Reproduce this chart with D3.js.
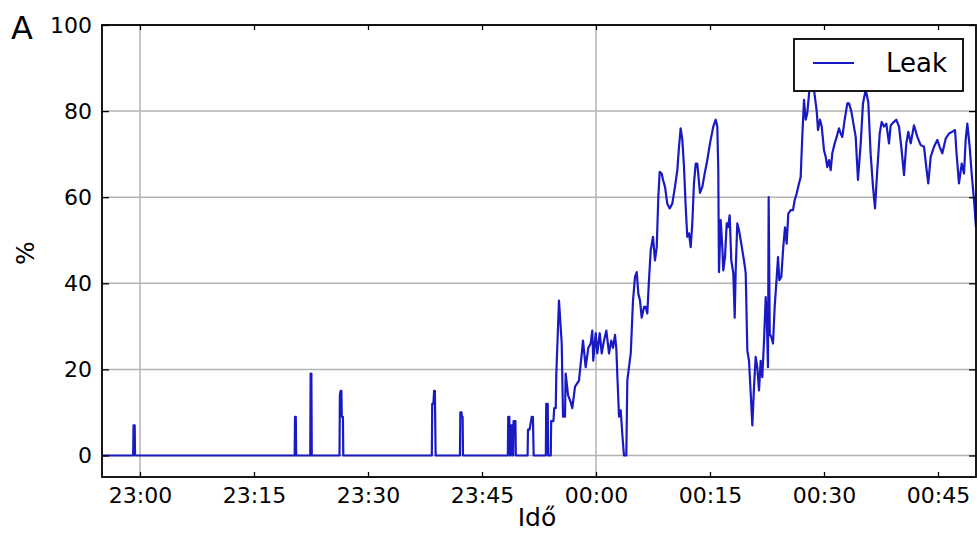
<!DOCTYPE html>
<html>
<head>
<meta charset="utf-8">
<script src="https://cdn.jsdelivr.net/npm/d3@7"></script>
<style>
  body { margin: 0; background: #fff; }
  text { font-family: "DejaVu Sans", sans-serif; fill: #000; }
</style>
</head>
<body>
<svg id="chart" width="977" height="534"></svg>
<script>
// Leak sensor trace: minutes elapsed since 23:00 and leak level in percent
const leakMinutes = [
  -5, -0.9, -0.85, -0.7, -0.65,
  20.35, 20.4, 20.5, 20.55,
  22.4, 22.45, 22.55, 22.6,
  26.25, 26.3, 26.4, 26.5, 26.55, 26.7, 26.75,
  38.4, 38.45, 38.6, 38.7, 38.8, 38.9,
  42.1, 42.15, 42.3, 42.35, 42.45, 42.5,
  48.4, 48.45, 48.6, 48.65, 48.75, 48.8, 48.95, 49.0, 49.1, 49.15, 49.4, 49.45,
  51.0, 51.05, 51.25, 51.35, 51.55, 51.7, 51.8,
  53.4, 53.45, 53.65, 53.7,
  54.05, 54.1, 54.4, 54.5, 54.7, 54.78, 55.13, 55.49, 55.66, 55.92, 56.01, 56.32, 56.67, 56.88,
  57.24, 57.76, 58.12, 58.29, 58.64, 58.99, 59.30, 59.51, 59.64, 59.96, 60.17, 60.49, 60.75,
  61.05, 61.36, 61.71, 62.01, 62.24, 62.5, 62.67, 62.80, 63.03, 63.25, 63.46, 63.68, 63.99,
  64.12, 64.34, 64.57, 64.87, 65.13, 65.36, 65.57, 65.79, 66.01, 66.32, 66.54, 66.75, 66.97,
  67.20, 67.50, 67.76, 67.99, 68.20, 68.38, 68.64, 68.82, 69.08, 69.38, 69.70, 70.04, 70.39,
  70.70, 70.92, 71.14, 71.36, 71.58, 71.80, 72.01, 72.24, 72.46, 72.67, 72.89, 73.12, 73.33,
  73.68, 73.99, 74.30, 74.64, 75.0, 75.43, 75.75, 75.96, 76.09, 76.18, 76.41, 76.62, 76.75,
  76.97, 77.20, 77.37, 77.59, 77.80, 78.07, 78.25, 78.38, 78.59, 78.82, 79.04, 79.25, 79.47,
  79.70, 79.91, 80.13, 80.36, 80.57, 80.79, 81.01, 81.22, 81.45, 81.67, 81.88, 82.11, 82.33,
  82.46, 82.63, 82.72, 82.86, 83.07, 83.29, 83.51, 83.78, 83.95, 84.12, 84.38, 84.64, 84.87,
  85.09, 85.30, 85.62, 85.92, 86.14, 86.41, 86.71, 86.93, 87.14, 87.37, 87.59, 87.80, 88.03,
  88.25, 88.49, 88.68, 89.04, 89.21, 89.47, 89.70, 90.0, 90.22, 90.43, 90.66, 90.88, 91.09,
  91.41, 91.67, 91.97, 92.20, 92.41, 92.72, 93.07, 93.29, 93.59, 94.17, 94.47, 94.83, 95.13,
  95.49, 95.83, 96.14, 96.45, 96.71, 97.01, 97.33, 97.59, 97.89, 98.20, 98.55, 98.78, 99.21,
  99.51, 99.87, 100.17, 100.53, 100.83, 101.09, 101.41, 101.84, 102.28, 102.72, 103.16, 103.46,
  103.72, 104.04, 104.47, 104.91, 105.22, 105.57, 106.01, 106.45, 106.88, 107.24, 107.41,
  107.76, 108.12, 108.42, 108.64, 108.86, 109.17, 109.43, 109.74, 110
];
const leakValues = [
  0, 0, 7, 7, 0,
  0, 9, 9, 0,
  0, 19, 19, 0,
  0, 14, 15, 15, 9, 9, 0,
  0, 12, 12, 15, 15, 0,
  0, 10, 10, 9, 9, 0,
  0, 9, 9, 0, 0, 7, 7, 0, 0, 8, 8, 0,
  0, 6, 6, 7, 9, 9, 0,
  0, 12, 12, 0,
  0, 8, 8, 11, 11, 19, 36, 26, 9, 9, 19, 14, 12.4, 11,
  16, 17.4, 23.6, 26.7, 20.5, 25, 26, 29, 22, 28.4, 23.7, 28.4, 23.7,
  26.7, 29, 23.7, 26.7, 25, 28, 25, 19, 9, 10.5, 5, 0, 0,
  17.4, 20.5, 23.7, 36, 41.5, 42.6, 37.6, 36, 32, 34.5, 34.5, 33, 40.7,
  47.7, 50.8, 45.3, 48.4, 60, 65.9, 65.5, 64, 62.4, 58.5, 57.4, 58.5, 62.4,
  66.3, 71.7, 76, 73.3, 67, 57.8, 50.8, 51.6, 48.4, 53.9, 63.2, 67.8, 67.8,
  61, 62.4, 65.5, 68.6, 72.5, 76.4, 78, 76.4, 66.3, 42.6, 54.7, 48.4, 43,
  46, 53.9, 53, 55.8, 45.3, 42.3, 32, 43, 53.9, 52.3, 50, 47.7, 45.3,
  42.3, 24.4, 22, 14.3, 7, 15.9, 22.9, 20.5, 15.1, 22, 18.2, 26.7, 36.8,
  33, 20.5, 60, 28.3, 27.5, 26, 34.5, 41.5, 46.1, 40.7, 41.5, 48.4, 53,
  49.2, 56.2, 57, 57, 59.3, 60.9, 63.2, 64.7, 74, 82.6, 78, 79.5, 84,
  88, 90, 85, 80, 75.6, 78, 76.4, 70.9, 69.4, 67, 68.6, 66.3, 70.2,
  72.5, 74, 76, 74.8, 74, 78, 81.8, 81.8, 80, 74, 64, 72.5, 81.8,
  85, 82, 70, 62.4, 57.4, 66.3, 74.8, 77.5, 76.4, 77.1, 72.5, 76.7, 77.5,
  78, 76.4, 71.7, 65.1, 72.5, 75.2, 72.5, 76.7, 74, 72.1, 71.7, 67,
  63.2, 69.4, 71.7, 73.3, 71.7, 70.2, 73.6, 74.8, 75.2, 75.6, 70.9,
  63.2, 67.8, 65.5, 73.3, 77.1, 71.7, 65.5, 59.3, 53
];

// Axis ticks
const yTicks = [0, 20, 40, 60, 80, 100];
const xTickLabels = ["23:00", "23:15", "23:30", "23:45", "00:00", "00:15", "00:30", "00:45"];
const xGridLabels = ["23:00", "00:00"];
const xRange = ["22:55", "00:50"];
const seriesName = "Leak";

const start = new Date(2000, 0, 1, 23, 0);
const atMinutes = m => new Date(start.getTime() + m * 60000);
const parseClock = s => {
  const [h, m] = s.split(":").map(Number);
  return new Date(2000, 0, h < 12 ? 2 : 1, h, m);
};

const data = leakMinutes.map((m, i) => ({ t: atMinutes(m), v: leakValues[i] }));

const W = 977, H = 534;
const margin = { left: 102, top: 25, right: 1, bottom: 57 };
const plotW = W - margin.left - margin.right;
const plotH = H - margin.top - margin.bottom;

const svg = d3.select("#chart");
const g = svg.append("g").attr("transform", `translate(${margin.left},${margin.top})`);

const x = d3.scaleTime().domain(xRange.map(parseClock)).range([0, plotW]);
const y = d3.scaleLinear().domain([-5, 100]).range([plotH, 0]);

const gridColor = "#b3b3b3";

// Horizontal grid lines
g.append("g").selectAll("line").data(yTicks).join("line")
  .attr("x1", 0).attr("x2", plotW)
  .attr("y1", d => y(d)).attr("y2", d => y(d))
  .attr("stroke", gridColor).attr("stroke-width", 1.5);

// Vertical grid lines on the hours
g.append("g").selectAll("line").data(xGridLabels.map(parseClock)).join("line")
  .attr("x1", d => x(d)).attr("x2", d => x(d))
  .attr("y1", 0).attr("y2", plotH)
  .attr("stroke", gridColor).attr("stroke-width", 1.5);

// Data line
g.append("clipPath").attr("id", "plotClip")
  .append("rect").attr("width", plotW).attr("height", plotH);

const line = d3.line().x(d => x(d.t)).y(d => y(d.v));
g.append("path").datum(data)
  .attr("clip-path", "url(#plotClip)")
  .attr("fill", "none")
  .attr("stroke", "#1a1ac4")
  .attr("stroke-width", 2.2)
  .attr("stroke-linejoin", "round")
  .attr("d", line);

// Axes with inward ticks
const xTickDates = xTickLabels.map(parseClock);
const fmt = d3.timeFormat("%H:%M");

const xAxis = g.append("g").attr("transform", `translate(0,${plotH})`)
  .call(d3.axisBottom(x).tickValues(xTickDates).tickFormat(fmt).tickSize(-5).tickPadding(10));
const topAxis = g.append("g")
  .call(d3.axisTop(x).tickValues(xTickDates).tickFormat("").tickSize(-5));
const yAxis = g.append("g")
  .call(d3.axisLeft(y).tickValues(yTicks).tickSize(-7).tickPadding(10));
const rightAxis = g.append("g").attr("transform", `translate(${plotW},0)`)
  .call(d3.axisRight(y).tickValues(yTicks).tickFormat("").tickSize(-7));

[xAxis, topAxis, yAxis, rightAxis].forEach(a => {
  a.select(".domain").remove();
  a.selectAll(".tick line").attr("stroke", "#000").attr("stroke-width", 1.3);
  a.selectAll("text").attr("font-size", 22).attr("font-family", "DejaVu Sans, sans-serif").attr("fill", "#000");
});

// Frame
g.append("rect").attr("width", plotW).attr("height", plotH)
  .attr("fill", "none").attr("stroke", "#000").attr("stroke-width", 1.8);

// Axis titles
svg.append("text").attr("x", margin.left + plotW / 2 - 2).attr("y", 526)
  .attr("text-anchor", "middle").attr("font-size", 25).text("Idő");
svg.append("text").attr("transform", `translate(34,${margin.top + plotH / 2 + 2}) rotate(-90)`)
  .attr("text-anchor", "middle").attr("font-size", 25).text("%");
svg.append("text").attr("x", 11).attr("y", 39).attr("font-size", 32).text("A");

// Legend
const lg = svg.append("g").attr("transform", `translate(${margin.left + plotW - 182},${margin.top + 14})`);
lg.append("rect").attr("width", 169).attr("height", 52)
  .attr("fill", "#fff").attr("stroke", "#000").attr("stroke-width", 1.8);
lg.append("line").attr("x1", 19).attr("x2", 60).attr("y1", 24).attr("y2", 24)
  .attr("stroke", "#1a1ac4").attr("stroke-width", 2.2);
lg.append("text").attr("x", 92).attr("y", 33).attr("font-size", 26).text(seriesName);
</script>
</body>
</html>
